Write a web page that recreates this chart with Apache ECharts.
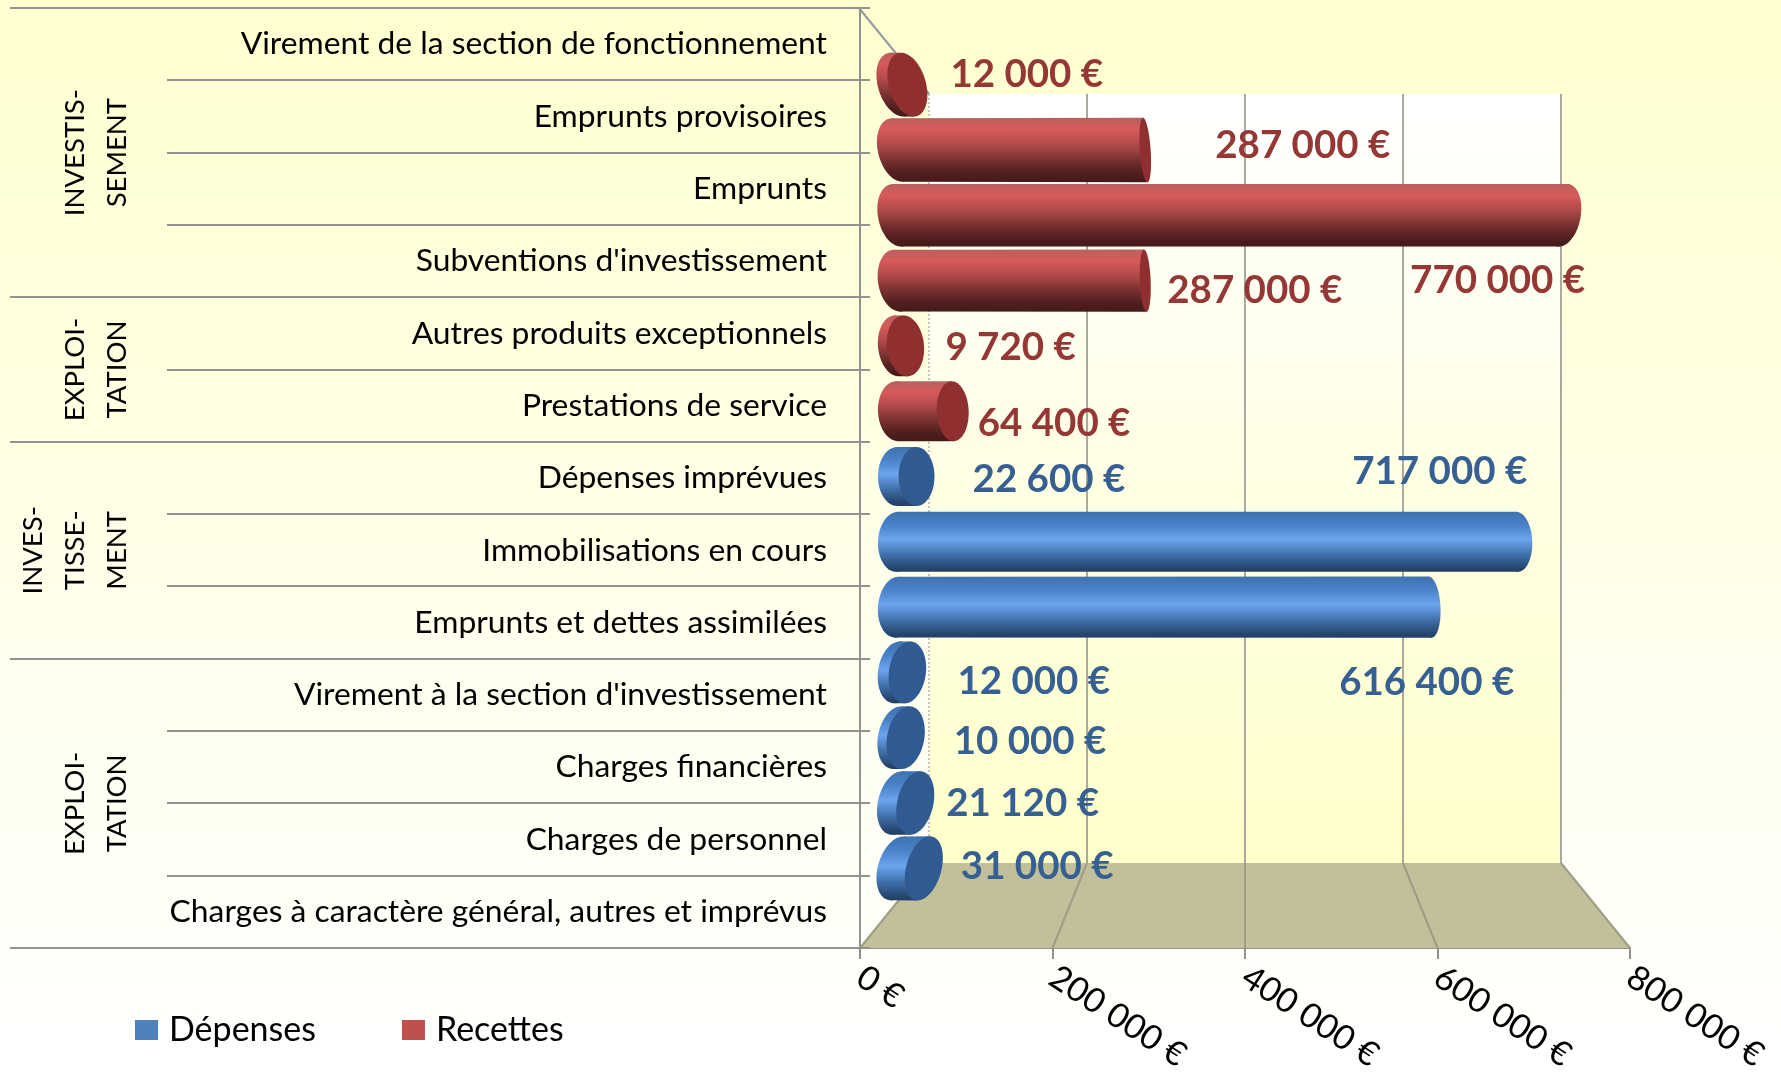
<!DOCTYPE html>
<html>
<head>
<meta charset="utf-8">
<title>Budget</title>
<script src="https://cdn.jsdelivr.net/npm/echarts@6/dist/echarts.min.js"></script>
<style>
  html, body { margin: 0; padding: 0; background: #fff; }
  #main { width: 1781px; height: 1075px; }
</style>
</head>
<body>
<div id="main"></div>
<script>
// rows, top to bottom
const categories = [
  'Virement de la section de fonctionnement',
  'Emprunts provisoires',
  'Emprunts',
  "Subventions d'investissement",
  'Autres produits exceptionnels',
  'Prestations de service',
  'Dépenses imprévues',
  'Immobilisations en cours',
  'Emprunts et dettes assimilées',
  "Virement à la section d'investissement",
  'Charges financières',
  'Charges de personnel',
  'Charges à caractère général, autres et imprévus'
];
const recettes = [12000, 287000, 770000, 287000, 9720, 64400, null, null, null, null, null, null, null];
const depenses = [null, null, null, null, null, null, 22600, 717000, 616400, 12000, 10000, 21120, 31000];
const xTicks = [0, 200000, 400000, 600000, 800000];
const xTickLabels = ['0 €', '200 000 €', '400 000 €', '600 000 €', '800 000 €'];
const groupNames = ['INVESTIS-\nSEMENT', 'EXPLOI-\nTATION', 'INVES-\nTISSE-\nMENT', 'EXPLOI-\nTATION'];
const groupSizes = [4, 2, 3, 4];

// where each value label sits relative to the end of its bar
const labelDx = [43, 70, -153, 22, 40, 25, 56, -165, -91, 50, 48, 31, 37];
const labelDy = [-10, -4, 65, 10, 2, 12, 3, -70, 75, 9, 4, 1, -2];

const FONT = 'Lato, sans-serif';
const AXIS_MAX = 800000;
// vanishing point of the fake 3D view
const vanishX = 1243, vanishY = 480;

const chart = echarts.init(document.getElementById('main'));

function ellipsePts(cx, cy, rx, ry, t) {
  const pts = [];
  for (let k = 0; k < 48; k++) {
    const a = k / 48 * Math.PI * 2;
    pts.push([
      cx + rx * Math.cos(a) * Math.cos(t) - ry * Math.sin(a) * Math.sin(t),
      cy + rx * Math.cos(a) * Math.sin(t) + ry * Math.sin(a) * Math.cos(t)
    ]);
  }
  return pts;
}

function endCap(x, y, band, row) {
  const rx = Math.abs(x - vanishX) * 0.055;
  const ry = band * 0.45 * (1 + 0.02 * Math.abs(row - 6));
  const t = -(x - vanishX) * (y - vanishY) * 1.25e-4 * Math.PI / 180;
  return ellipsePts(x, y, rx, ry, t);
}

function extreme(pts, sign) {
  return pts.reduce((best, p) => (p[1] * sign > best[1] * sign ? p : best));
}

// one cylinder: rounded start, body, end face
function cylinderRenderer(stops, faceColor, textColor) {
  return function (params, api) {
    const value = api.value(0), row = api.value(1);
    const start = api.coord([0, row]);
    const end = api.coord([value, row]);
    const band = api.size([0, 1])[1];
    const left = endCap(start[0], start[1], band, row);
    const right = endCap(end[0], end[1], band, row);
    const lt = extreme(left, -1), lb = extreme(left, 1);
    const rt = extreme(right, -1), rb = extreme(right, 1);
    const top = Math.min(lt[1], rt[1]), bottom = Math.max(lb[1], rb[1]);
    const fill = new echarts.graphic.LinearGradient(0, top, 0, bottom, stops, true);
    return {
      type: 'group',
      children: [
        { type: 'polygon', shape: { points: left }, style: { fill: fill } },
        { type: 'polygon', shape: { points: [lt, rt, rb, lb] }, style: { fill: fill } },
        { type: 'polygon', shape: { points: right }, style: { fill: end[0] < vanishX ? faceColor : fill } },
        {
          type: 'text',
          z2: 100,
          x: end[0] + labelDx[row],
          y: end[1] + labelDy[row],
          style: {
            text: value.toString().replace(/\B(?=(\d{3})+$)/g, ' ') + ' €',
            font: 'bold 38.5px ' + FONT,
            fill: textColor,
            align: 'left',
            verticalAlign: 'middle'
          }
        }
      ]
    };
  };
}

function rows(values) {
  return values.map((v, i) => [v, i]).filter(d => d[0] !== null);
}

const redStops = [
  { offset: 0, color: '#b96060' }, { offset: 0.18, color: '#d85a5a' }, { offset: 0.42, color: '#b04a4a' },
  { offset: 0.65, color: '#7a3131' }, { offset: 0.85, color: '#521f1f' }, { offset: 1, color: '#451919' }
];
const blueStops = [
  { offset: 0, color: '#3f72b0' }, { offset: 0.22, color: '#4a82c8' }, { offset: 0.46, color: '#6ca5ee' },
  { offset: 0.72, color: '#3f6fa8' }, { offset: 0.94, color: '#25456e' }, { offset: 1, color: '#223f66' }
];

// row and group rules + rotated group names, on the label grid
function renderRules(params, api) {
  const band = api.size([0, 1])[1];
  const children = [];
  const groupEdges = [0];
  groupSizes.forEach(s => groupEdges.push(groupEdges[groupEdges.length - 1] + s));
  for (let i = 0; i <= categories.length; i++) {
    const y = Math.round(api.coord([0, 0])[1] - band / 2 + i * band);
    children.push({
      type: 'line',
      shape: { x1: groupEdges.includes(i) ? 10 : 167, y1: y, x2: 870, y2: y },
      style: { stroke: '#929292', lineWidth: 2 }
    });
  }
  groupNames.forEach((name, g) => {
    const mid = (groupEdges[g] + groupEdges[g + 1]) / 2;
    const lines = name.split('\n').length;
    children.push({
      type: 'text',
      x: 117 - (lines - 1) * 21,
      y: api.coord([0, 0])[1] - band / 2 + mid * band,
      rotation: Math.PI / 2,
      style: {
        text: name,
        font: '27.5px ' + FONT,
        lineHeight: 42,
        fill: '#000',
        align: 'center',
        verticalAlign: 'middle'
      }
    });
  });
  return { type: 'group', children: children };
}

// floor and its lines: value on the back wall joined to same value on the front axis
function renderFloor(params, api) {
  const backY = api.coord([0, 0])[1];
  const frontY = 948;
  const back = xTicks.map(v => api.coord([v, 0])[0]);
  const front = xTicks.map(v => chart.convertToPixel({ xAxisIndex: 0 }, v));
  const last = xTicks.length - 1;
  const children = [{
    type: 'polygon',
    shape: { points: [[front[0], frontY], [back[0], backY], [back[last], backY], [front[last], frontY]] },
    style: { fill: '#c1c09a' }
  }];
  xTicks.forEach((v, i) => {
    children.push({
      type: 'line',
      shape: { x1: back[i], y1: backY, x2: front[i], y2: frontY },
      style: { stroke: '#9d9d86', lineWidth: 2 }
    });
  });
  // pale dotted corner of the back wall
  children.push({
    type: 'line',
    shape: { x1: back[0], y1: 94, x2: back[0], y2: backY },
    style: { stroke: '#c4c4c4', lineWidth: 2, lineDash: [2, 2] }
  });
  // slanted top edge of the left wall
  children.push({
    type: 'line',
    shape: { x1: 859, y1: 8, x2: back[0], y2: 94 },
    style: { stroke: '#929aa0', lineWidth: 2 }
  });
  return { type: 'group', children: children };
}

const option = {
  animation: false,
  backgroundColor: new echarts.graphic.LinearGradient(0, 0, 0, 1, [
    { offset: 0, color: '#ffffcf' },
    { offset: 0.5, color: '#ffffe8' },
    { offset: 1, color: '#ffffff' }
  ]),
  legend: {
    left: 130,
    top: 1008,
    icon: 'rect',
    itemWidth: 23,
    itemHeight: 20,
    itemGap: 86,
    data: ['Dépenses', 'Recettes'],
    textStyle: { fontFamily: FONT, fontSize: 34, color: '#000', padding: [0, 0, 0, 6] }
  },
  grid: [
    { left: 860, top: 8, width: 770, height: 940 },
    {
      left: 929, top: 94, width: 632, height: 769, show: true, borderWidth: 0,
      backgroundColor: new echarts.graphic.LinearGradient(0, 0, 0, 1, [
        { offset: 0, color: '#ffffff' },
        { offset: 1, color: '#ffffca' }
      ])
    },
    { left: 897, top: 52, width: 692, height: 849 }
  ],
  xAxis: [
    {
      gridIndex: 0, type: 'value', min: 0, max: AXIS_MAX, interval: 200000,
      axisLine: { show: true, lineStyle: { color: '#929292', width: 2 } },
      axisTick: { show: true, length: 11, lineStyle: { color: '#929292', width: 2 } },
      splitLine: { show: false },
      axisLabel: {
        rotate: -33, margin: 26, fontFamily: FONT, fontSize: 34, color: '#000',
        formatter: (v) => xTickLabels[xTicks.indexOf(v)]
      }
    },
    {
      gridIndex: 1, type: 'value', min: 0, max: AXIS_MAX, interval: 200000,
      axisLine: { show: false }, axisTick: { show: false }, axisLabel: { show: false },
      splitLine: { show: true, showMinLine: false, lineStyle: { color: '#a9a9a0', width: 2 } }
    },
    { gridIndex: 2, type: 'value', min: 0, max: AXIS_MAX, show: false }
  ],
  yAxis: [
    {
      gridIndex: 0, type: 'category', inverse: true, data: categories,
      axisLine: { show: true, lineStyle: { color: '#929292', width: 2 } },
      axisTick: { show: false },
      axisLabel: { margin: 33, interval: 0, fontFamily: FONT, fontSize: 31.8, color: '#000', padding: [9, 0, 0, 0] }
    },
    { gridIndex: 1, type: 'value', min: 0, max: 1, show: false, splitLine: { show: false } },
    { gridIndex: 2, type: 'category', inverse: true, data: categories, show: false }
  ],
  series: [
    {
      type: 'custom', xAxisIndex: 1, yAxisIndex: 1, silent: true, z: 1, clip: false,
      data: [[0, 0]], renderItem: renderFloor
    },
    {
      type: 'custom', xAxisIndex: 0, yAxisIndex: 0, silent: true, z: 2, clip: false,
      data: [[0, 0]], encode: { x: 0, y: 1 }, renderItem: renderRules
    },
    {
      name: 'Dépenses', type: 'custom', xAxisIndex: 2, yAxisIndex: 2, silent: true, z: 5, clip: false,
      itemStyle: { color: '#4f81bd' },
      data: rows(depenses), encode: { x: 0, y: 1 },
      renderItem: cylinderRenderer(blueStops, '#2f5a92', '#376092')
    },
    {
      name: 'Recettes', type: 'custom', xAxisIndex: 2, yAxisIndex: 2, silent: true, z: 5, clip: false,
      itemStyle: { color: '#c0504d' },
      data: rows(recettes), encode: { x: 0, y: 1 },
      renderItem: cylinderRenderer(redStops, '#8f2f30', '#953735')
    }
  ]
};
chart.setOption(option);
</script>
</body>
</html>
